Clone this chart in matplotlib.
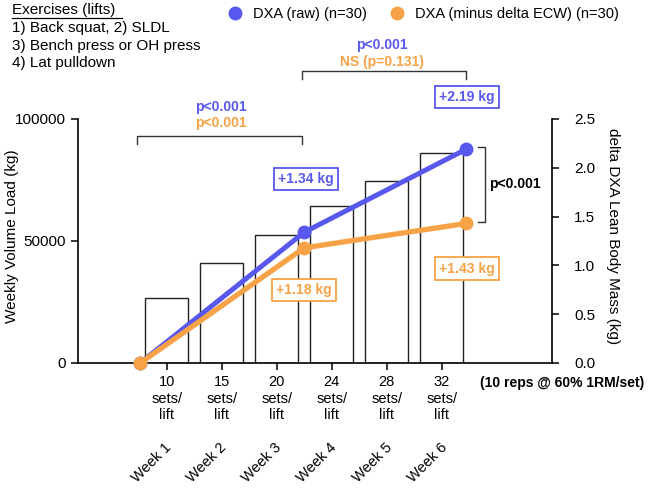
import matplotlib
matplotlib.use("Agg")
import matplotlib.pyplot as plt
from matplotlib.lines import Line2D
from matplotlib.ticker import FormatStrFormatter
from matplotlib.transforms import blended_transform_factory

plt.rcParams['font.family'] = ['Liberation Sans', 'DejaVu Sans']

# data
weeks = [1, 2, 3, 4, 5, 6]
week_labels = ['Week 1', 'Week 2', 'Week 3', 'Week 4', 'Week 5', 'Week 6']
sets_per_lift = [10, 15, 20, 24, 28, 32]
volume_load = [26800, 40900, 52500, 64500, 74700, 86200]

# DXA time points: baseline, after week 3, after week 6
dxa_x = [0.52, 3.5, 6.44]
dxa_raw = [0.0, 1.34, 2.19]
dxa_minus_ecw = [0.0, 1.18, 1.43]

BLUE = '#5858ee'
ORANGE = '#f7a246'
W, H = 649, 488


def fx(px):
    return px / W


def fy(py):
    return 1 - py / H


fig = plt.figure(figsize=(W / 100, H / 100), dpi=100)
ax = fig.add_axes([fx(78), fy(363), (552 - 78) / W, (363 - 119) / H])

ax.bar(weeks, volume_load, width=0.78, facecolor='white', edgecolor='#222222', linewidth=1.0)
ax.set_xlim(-0.61, 8.0)
ax.set_ylim(0, 100000)
ax.set_yticks([0, 50000, 100000])
ax.set_xticks(weeks, [f'{s}\nsets/\nlift' for s in sets_per_lift])
ax.spines['top'].set_visible(False)
ax.spines['right'].set_visible(False)
for s in ['left', 'bottom']:
    ax.spines[s].set_linewidth(1.2)
ax.tick_params(direction='out', length=5, width=1.1, labelsize=11)
ax.tick_params(axis='x', labelsize=10.5, pad=4)

ax2 = ax.twinx()
ax2.set_ylim(0, 2.5)
ax2.set_yticks([0, 0.5, 1.0, 1.5, 2.0, 2.5])
ax2.yaxis.set_major_formatter(FormatStrFormatter('%.1f'))
ax2.spines['top'].set_visible(False)
ax2.spines['left'].set_visible(False)
ax2.spines['bottom'].set_visible(False)
ax2.spines['right'].set_linewidth(1.2)
ax2.tick_params(direction='out', length=5, width=1.1, labelsize=11, pad=11)

ax2.plot(dxa_x, dxa_raw, color=BLUE, lw=3.6, marker='o', ms=9, clip_on=False,
         solid_capstyle='round')
ax2.plot(dxa_x, dxa_minus_ecw, color=ORANGE, lw=3.8, marker='o', ms=9, clip_on=False,
         solid_capstyle='round')

# week labels under the set counts
tr = blended_transform_factory(ax.transData, ax.transAxes)
for w, lab in zip(weeks, week_labels):
    ax.text(w - 0.04, -0.318, lab, transform=tr, rotation=45, ha='right', va='top',
            rotation_mode='anchor', fontsize=10.5)

fig.text(fx(12), fy(236), 'Weekly Volume Load (kg)', rotation=90, ha='center', va='center', fontsize=11)
fig.text(fx(613), fy(236), 'delta DXA Lean Body Mass (kg)', rotation=270, ha='center', va='center',
         fontsize=11)
fig.text(fx(480), fy(383), '(10 reps @ 60% 1RM/set)', ha='left', va='center', fontsize=10, fontweight='bold')

# exercise list
fig.text(fx(12), fy(10), 'Exercises (lifts)', ha='left', va='center', fontsize=11)
fig.add_artist(Line2D([fx(12), fx(122)], [fy(17.5), fy(17.5)], transform=fig.transFigure, color='black', lw=0.9))
fig.text(fx(12), fy(28), '1) Back squat, 2) SLDL', ha='left', va='center', fontsize=11)
fig.text(fx(12), fy(46), '3) Bench press or OH press', ha='left', va='center', fontsize=11)
fig.text(fx(12), fy(63), '4) Lat pulldown', ha='left', va='center', fontsize=11)

# legend
handles = [Line2D([], [], color=BLUE, marker='o', ls='none', ms=9),
           Line2D([], [], color=ORANGE, marker='o', ls='none', ms=9)]
fig.legend(handles, ['DXA (raw) (n=30)', 'DXA (minus delta ECW) (n=30)'], ncol=2,
           loc='center left', bbox_to_anchor=(fx(228), fy(14)), frameon=False, fontsize=10.5,
           handlelength=1.0, handletextpad=0.7, columnspacing=1.6, borderpad=0, borderaxespad=0)

# brackets
def bracket(xs, ys):
    fig.add_artist(Line2D([fx(x) for x in xs], [fy(y) for y in ys], transform=fig.transFigure,
                          color='#333333', lw=1.0))


bracket([137, 137, 302, 302], [144, 136, 136, 144])
bracket([302, 302, 466, 466], [79, 71, 71, 79])
bracket([478, 485, 485, 478], [147, 147, 222, 222])

fig.text(fx(221), fy(107), 'p<0.001', color=BLUE, ha='center', va='center', fontsize=10, fontweight='bold')
fig.text(fx(221), fy(123), 'p<0.001', color=ORANGE, ha='center', va='center', fontsize=10, fontweight='bold')
fig.text(fx(382), fy(45), 'p<0.001', color=BLUE, ha='center', va='center', fontsize=10, fontweight='bold')
fig.text(fx(382), fy(62), 'NS (p=0.131)', color=ORANGE, ha='center', va='center', fontsize=10, fontweight='bold')
fig.text(fx(489), fy(184), 'p<0.001', color='black', ha='left', va='center', fontsize=10, fontweight='bold')

# boxed change labels
def boxed(px, py, txt, col):
    fig.text(fx(px), fy(py), txt, color=col, ha='center', va='center', fontsize=10, fontweight='bold',
             bbox=dict(boxstyle='square,pad=0.3', facecolor='white', edgecolor=col, linewidth=1.3))


boxed(306, 179, '+1.34 kg', BLUE)
boxed(304, 290, '+1.18 kg', ORANGE)
boxed(467, 97, '+2.19 kg', BLUE)
boxed(467, 268.5, '+1.43 kg', ORANGE)

fig.savefig('out.png', dpi=100)
